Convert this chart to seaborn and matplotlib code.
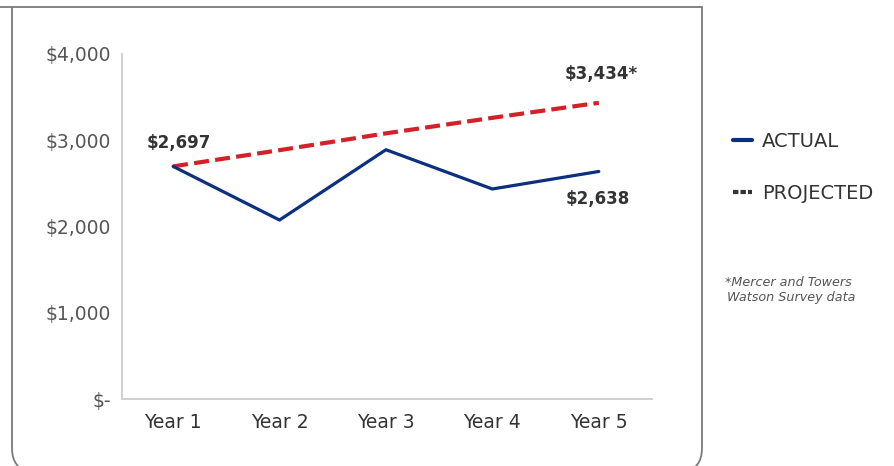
import numpy as np
import pandas as pd
import matplotlib
matplotlib.use("Agg")
import matplotlib.pyplot as plt
import seaborn as sns
from matplotlib.lines import Line2D
from matplotlib.path import Path
from matplotlib.patches import PathPatch

# datos
years = ["Year 1", "Year 2", "Year 3", "Year 4", "Year 5"]
actual = [2697, 2075, 2890, 2435, 2638]
projected = [2697, 2885, 3080, 3260, 3434]
ytick_vals = [0, 1000, 2000, 3000, 4000]
ytick_labels = ["$-", "$1,000", "$2,000", "$3,000", "$4,000"]

navy = "#0d2f80"
red = "#d42028"

sns.set_theme(style="white")
plt.rcParams['font.family'] = ['DejaVu Sans']

W, H = 894, 466
fig = plt.figure(figsize=(W / 100, H / 100), dpi=100)
ax = fig.add_axes([122 / W, 1 - 399 / H, (652 - 122) / W, (399 - 54) / H])

pos = np.arange(1, len(years) + 1)
df = pd.DataFrame({"pos": pos, "actual": actual, "projected": projected})

sns.lineplot(data=df, x="pos", y="projected", ax=ax, color=red, lw=3,
             linestyle=(0, (3.6, 1.5)), zorder=3)
sns.lineplot(data=df, x="pos", y="actual", ax=ax, color=navy, lw=2.3, zorder=4)

ax.set_xlim(0.52, 5.5)
ax.set_ylim(0, 4000)
ax.set_xticks(pos)
ax.set_xticklabels(years)
ax.set_yticks(ytick_vals)
ax.set_yticklabels(ytick_labels)
ax.set_xlabel("")
ax.set_ylabel("")

for s in ["top", "right"]:
    ax.spines[s].set_visible(False)
for s in ["left", "bottom"]:
    ax.spines[s].set_color("#d0d0d0")
    ax.spines[s].set_linewidth(1.4)
ax.tick_params(axis="both", direction="in", length=7, width=1.2, color="#d0d0d0")
ax.tick_params(axis="y", labelsize=13.5, labelcolor="#555555", pad=8)
ax.tick_params(axis="x", labelsize=13.5, labelcolor="#333333", pad=10)
ax.grid(False)

# etiquetas
lab = dict(fontsize=12, fontweight="bold", color="#333333")
ax.annotate("$2,697", (1, actual[0]), xytext=(-19, 17), textcoords="offset points",
            ha="left", va="center", **lab)
ax.annotate("$3,434*", (5, projected[-1]), xytext=(2, 21), textcoords="offset points",
            ha="center", va="center", **lab)
ax.annotate("$2,638", (5, actual[-1]), xytext=(-1, -20), textcoords="offset points",
            ha="center", va="center", **lab)

# leyenda
handles = [Line2D([], [], color=navy, lw=3),
           Line2D([], [], color="#333333", lw=3, linestyle=(0, (1.3, 0.5)))]
fig.legend(handles, ["ACTUAL", "PROJECTED"], loc="center left",
           bbox_to_anchor=(733 / W, 1 - 167.5 / H), frameon=False,
           fontsize=14, handlelength=1.0, handletextpad=0.5,
           labelspacing=1.72, borderpad=0, borderaxespad=0,
           labelcolor="#333333")

fig.text(725 / W, 1 - 283 / H, "*Mercer and Towers", fontsize=9.2, style="italic",
         color="#555555", va="center", ha="left")
fig.text(727 / W, 1 - 298 / H, "Watson Survey data", fontsize=9.2, style="italic",
         color="#555555", va="center", ha="left")

# marco redondeado
def px(x, y):
    return (x / W, 1 - y / H)

verts = [px(0, 7), px(702, 7), px(702, 448), px(702, 470), px(682, 472)]
codes = [Path.MOVETO, Path.LINETO, Path.LINETO, Path.CURVE3, Path.CURVE3]
fig.add_artist(PathPatch(Path(verts, codes), fill=False, edgecolor="#7a7a7a",
                         lw=1.3, transform=fig.transFigure))
verts = [px(12, 7), px(12, 448), px(12, 470), px(32, 472)]
codes = [Path.MOVETO, Path.LINETO, Path.CURVE3, Path.CURVE3]
fig.add_artist(PathPatch(Path(verts, codes), fill=False, edgecolor="#7a7a7a",
                         lw=1.3, transform=fig.transFigure))

fig.savefig("out.png", dpi=100, facecolor="white")
